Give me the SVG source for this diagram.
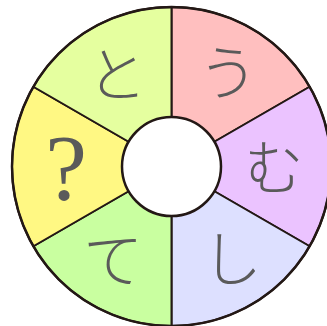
<svg xmlns="http://www.w3.org/2000/svg" width="327" height="326" viewBox="0 0 327 326">
<style>
.sec{stroke:#231815;stroke-width:2;stroke-linejoin:round}
.lbl{font-family:"Noto Sans CJK JP","Noto Sans",sans-serif;font-size:60px;font-weight:300;fill:#5a5a5a;text-anchor:middle;dominant-baseline:central}
.q{font-family:"Liberation Serif",serif;font-size:94px;fill:#5a5a5a;text-anchor:middle}
</style>
<rect width="327" height="326" fill="#ffffff"/>
<g id="sector-u"><path class="sec" fill="#ffbfbf" d="M171.5,166.5 L171.5,7 A159.5,159.5 0 0 1 309.63,86.75 Z"/><text class="lbl" x="228" y="68">う</text></g>
<g id="sector-mu"><path class="sec" fill="#ebc3ff" d="M171.5,166.5 L309.63,86.75 A159.5,159.5 0 0 1 309.63,246.25 Z"/><text class="lbl" x="274" y="163">む</text></g>
<g id="sector-shi"><path class="sec" fill="#dde0ff" d="M171.5,166.5 L309.63,246.25 A159.5,159.5 0 0 1 171.5,326 Z"/><text class="lbl" x="232" y="254">し</text></g>
<g id="sector-te"><path class="sec" fill="#c9ffa0" d="M171.5,166.5 L171.5,326 A159.5,159.5 0 0 1 33.37,246.25 Z"/><text class="lbl" x="113" y="255">て</text></g>
<g id="sector-q"><path class="sec" fill="#fff883" d="M171.5,166.5 L33.37,246.25 A159.5,159.5 0 0 1 33.37,86.75 Z"/><text class="q" x="66" y="199">?</text></g>
<g id="sector-to"><path class="sec" fill="#e5ff9f" d="M171.5,166.5 L33.37,86.75 A159.5,159.5 0 0 1 171.5,7 Z"/><text class="lbl" x="117" y="70">と</text></g>
<g id="hub"><circle cx="171.5" cy="166.5" r="49.5" fill="#ffffff" stroke="#231815" stroke-width="2.5"/></g>
<circle cx="171.5" cy="166.5" r="159.5" fill="none" stroke="#231815" stroke-width="2.5"/>
</svg>
